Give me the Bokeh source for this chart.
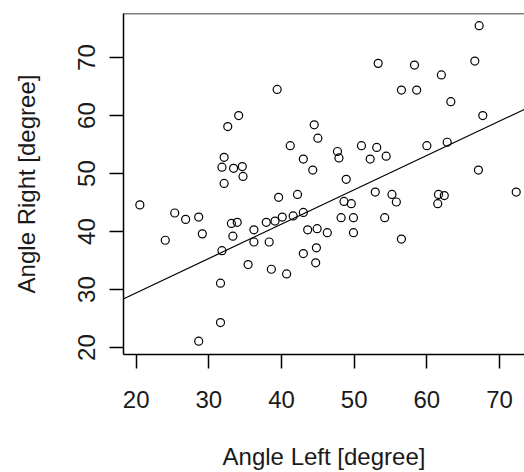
import numpy as np
from bokeh.plotting import figure
from bokeh.models import Range1d, FixedTicker, Span, Slope
from bokeh.embed import file_html
from bokeh.resources import INLINE

angle_left = [20.5, 24.0, 25.3, 26.8, 28.6, 29.1, 28.6, 31.6, 31.6, 31.8,
              33.1, 33.9, 33.3, 36.2, 36.2, 37.9, 39.1, 40.1, 41.6, 43.0,
              39.6, 42.2, 38.3, 35.4, 38.6, 40.7, 43.6, 44.9, 43.0, 44.8,
              44.7, 46.3, 48.6, 49.6, 52.9, 55.2, 55.8, 61.6, 62.4, 61.5,
              72.3, 48.2, 49.9, 54.2, 49.9, 56.5, 32.1, 34.7, 31.8, 33.4,
              34.6, 32.1, 32.6, 34.1, 39.4, 41.2, 43.0, 44.3, 44.5, 45.0,
              47.7, 47.9, 48.9, 51.0, 53.1, 52.2, 54.4, 60.0, 62.8, 67.1,
              53.3, 58.3, 56.5, 58.6, 63.3, 67.7, 62.0, 66.6, 67.2]
angle_right = [44.6, 38.5, 43.2, 42.1, 42.5, 39.6, 21.1, 24.3, 31.1, 36.7,
               41.4, 41.6, 39.2, 40.3, 38.2, 41.6, 41.8, 42.5, 42.7, 43.3,
               45.9, 46.4, 38.2, 34.3, 33.5, 32.7, 40.3, 40.5, 36.2, 37.2,
               34.6, 39.8, 45.2, 44.8, 46.8, 46.4, 45.1, 46.4, 46.2, 44.8,
               46.8, 42.4, 42.4, 42.4, 39.8, 38.7, 48.3, 49.5, 51.1, 50.9,
               51.2, 52.8, 58.1, 60.0, 64.5, 54.8, 52.5, 50.6, 58.4, 56.1,
               53.8, 52.7, 49.0, 54.8, 54.5, 52.5, 53.0, 54.8, 55.4, 50.6,
               69.0, 68.7, 64.4, 64.4, 62.4, 60.0, 67.0, 69.4, 75.5]
x_ticks = [20, 30, 40, 50, 60, 70]
y_ticks = [20, 30, 40, 50, 60, 70]

# fitted line as drawn in the reference
fit_intercept = 17.6
fit_slope = 0.592

FONT = "Liberation Sans"
TXT = "#1a1a1a"

p = figure(width=524, height=472, output_backend="svg", toolbar_location=None,
           x_range=Range1d(18.25, 73.44), y_range=Range1d(18.8, 77.6),
           min_border_left=123, min_border_right=0, min_border_top=13,
           min_border_bottom=116, background_fill_color="white",
           border_fill_color="white")
p.outline_line_color = None
p.grid.visible = False

p.scatter(angle_left, angle_right, marker="circle", size=8,
          fill_color=None, line_color="black", line_width=1.2)

p.add_layout(Slope(gradient=fit_slope, y_intercept=fit_intercept,
                   line_color="black", line_width=1.2))
p.add_layout(Span(location=77.6, dimension="width", line_color="black",
                  line_width=1.5))

for ax in (p.xaxis[0], p.yaxis[0]):
    ax.axis_line_color = "black"
    ax.axis_line_width = 1.5
    ax.major_tick_line_color = "black"
    ax.major_tick_line_width = 1.5
    ax.major_tick_in = 0
    ax.major_tick_out = 14
    ax.minor_tick_line_color = None
    ax.major_label_text_font = FONT
    ax.major_label_text_font_size = "24px"
    ax.major_label_text_color = TXT
    ax.axis_label_text_font = FONT
    ax.axis_label_text_font_size = "24px"
    ax.axis_label_text_font_style = "normal"
    ax.axis_label_text_color = TXT

p.xaxis.ticker = FixedTicker(ticks=x_ticks)
p.yaxis.ticker = FixedTicker(ticks=y_ticks)
p.xaxis.axis_label = "Angle Left [degree]"
p.yaxis.axis_label = "Angle Right [degree]"
p.xaxis.major_label_standoff = 22
p.xaxis.axis_label_standoff = 32
p.yaxis.major_label_orientation = "vertical"
p.yaxis.major_label_standoff = 14
p.yaxis.axis_label_standoff = 36

open("out.html", "w").write(file_html(p, INLINE))
